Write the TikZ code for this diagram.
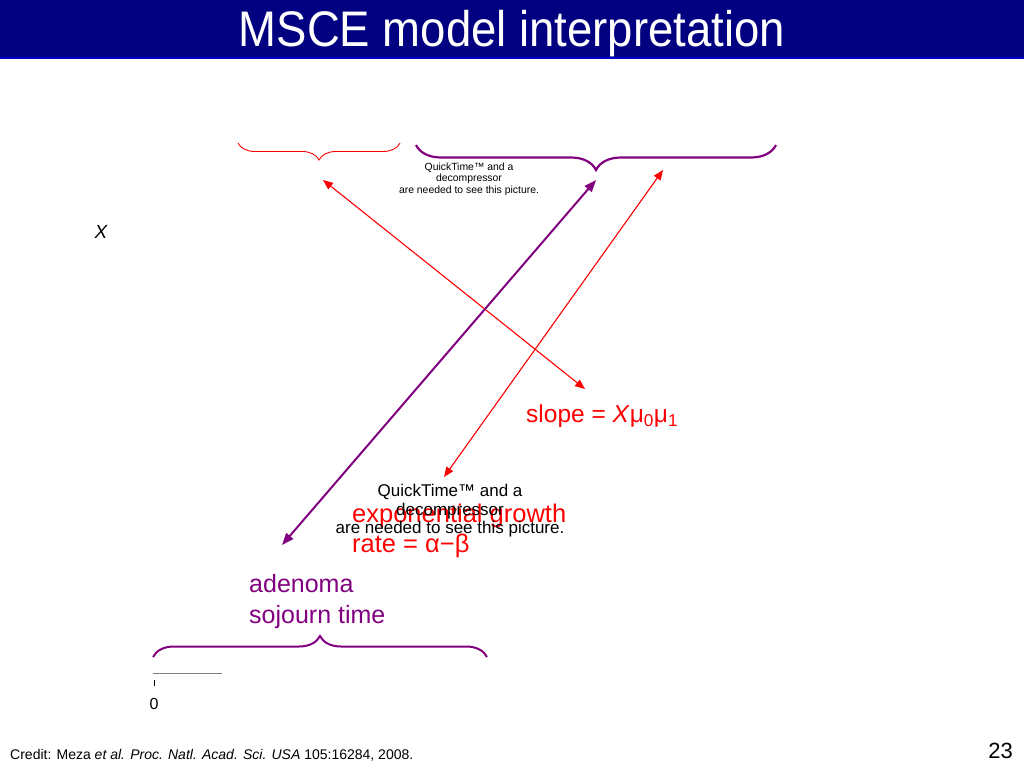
\documentclass[tikz,border=0pt]{standalone}
\usepackage{fontspec}
\setmainfont{Liberation Sans}
\newfontfamily\titlefont[FakeStretch=0.91]{Liberation Sans}
\definecolor{titleblue}{RGB}{0,0,128}
\definecolor{plum}{RGB}{128,0,128}
\definecolor{brightred}{RGB}{255,0,0}
\usetikzlibrary{arrows.meta,decorations.pathreplacing}

\tikzset{
  redarrow/.style={draw=brightred, line width=1.1pt,
    {Triangle[length=10pt,width=8pt]}-{Triangle[length=10pt,width=8pt]}},
  plumarrow/.style={draw=plum, line width=2pt,
    {Triangle[length=12pt,width=9pt]}-{Triangle[length=12pt,width=9pt]}},
  bracepath/.style={decorate, decoration={brace, amplitude=#1}},
  qtnote/.style={align=center, text=black}
}

\begin{document}
\begin{tikzpicture}[x=1pt,y=-1pt]
\tikzstyle{every node}+=[inner sep=0pt]
\useasboundingbox (0,0) rectangle (1024,768);
% title bar
\fill [titleblue] (0,0) rectangle (1024,58);
\draw [blue!60!titleblue, line width=1pt] (0,58) -- (1024,58);
\node [text=white, font=\titlefont\fontsize{50}{50}\selectfont] (title) at (512,34) {MSCE model interpretation};
% braces
\draw [brightred, line width=0.9pt, bracepath=17pt] (400,143) -- (238,143);
\draw [plum, line width=2.2pt, bracepath=25pt] (776,145) -- (416,145);
\draw [plum, line width=2pt, bracepath=21pt] (153,657) -- (487,657);
% labels
\node [font=\fontsize{19}{19}\selectfont\itshape] (xlabel) at (101,232) {X};
\node [anchor=west, text=brightred, font=\fontsize{24.5}{24.5}\selectfont] (slope) at (526,416) {slope = \textit{X}μ\textsubscript{0}μ\textsubscript{1}};
\node [anchor=west, align=left, text=brightred, font=\fontsize{25.5}{30}\selectfont] (growth) at (352,531) {exponential growth\\rate = α−β};
\node [anchor=west, align=left, text=plum, font=\fontsize{25}{31}\selectfont] (sojourn) at (249,601.5) {adenoma\\sojourn time};
\node [qtnote, font=\fontsize{10.4}{11.5}\selectfont] (qtsmall) at (469,179) {QuickTime™ and a\\decompressor\\are needed to see this picture.};
\node [qtnote, font=\fontsize{17}{18.5}\selectfont] (qtlarge) at (450,511) {QuickTime™ and a\\decompressor\\are needed to see this picture.};
% arrows
\coordinate (slopeend) at (585,389);
\coordinate (slopetip) at (323,180);
\coordinate (growthend) at (444,477);
\coordinate (growthtip) at (663,170);
\coordinate (sojournend) at (282,545);
\coordinate (sojourntip) at (596,180);
\draw [redarrow] (slopetip) -- (slopeend);
\draw [redarrow] (growthtip) -- (growthend);
\draw [plumarrow] (sojourntip) -- (sojournend);
% time axis
\coordinate (axisleft) at (153,673);
\coordinate (axisright) at (222,673);
\draw [gray, line width=1pt] (axisleft) -- (axisright);
\draw [black, line width=0.8pt] (154,680) -- (154,686);
\node [font=\fontsize{16}{16}\selectfont] (zero) at (154,704) {0};
% footer
\node [anchor=west, font=\fontsize{14}{14}\selectfont] (credit) at (10,755) {Credit: Meza \textit{et al. Proc. Natl. Acad. Sci. USA} 105:16284, 2008.};
\node [anchor=east, font=\fontsize{22}{22}\selectfont] (pagenum) at (1013,751) {23};
\end{tikzpicture}
\end{document}
